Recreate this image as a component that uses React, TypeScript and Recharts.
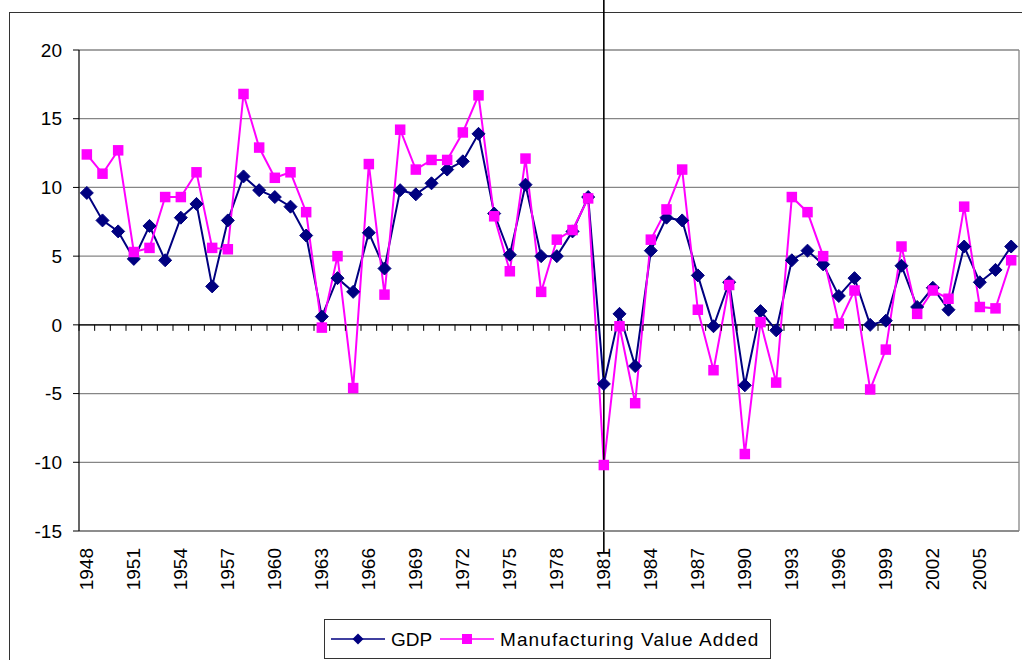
import { LineChart, Line, XAxis, YAxis, CartesianGrid, ReferenceLine } from "recharts";

const YEARS = [
  1948, 1949, 1950, 1951, 1952, 1953, 1954, 1955, 1956, 1957,
  1958, 1959, 1960, 1961, 1962, 1963, 1964, 1965, 1966, 1967,
  1968, 1969, 1970, 1971, 1972, 1973, 1974, 1975, 1976, 1977,
  1978, 1979, 1980, 1981, 1982, 1983, 1984, 1985, 1986, 1987,
  1988, 1989, 1990, 1991, 1992, 1993, 1994, 1995, 1996, 1997,
  1998, 1999, 2000, 2001, 2002, 2003, 2004, 2005, 2006, 2007,
];

const GDP = [
  9.6, 7.6, 6.8, 4.8, 7.2, 4.7, 7.8, 8.8, 2.8, 7.6,
  10.8, 9.8, 9.3, 8.6, 6.5, 0.6, 3.4, 2.4, 6.7, 4.1,
  9.8, 9.5, 10.3, 11.3, 11.9, 13.9, 8.1, 5.1, 10.2, 5.0,
  5.0, 6.8, 9.3, -4.3, 0.8, -3.0, 5.4, 7.8, 7.6, 3.6,
  -0.1, 3.1, -4.4, 1.0, -0.4, 4.7, 5.4, 4.4, 2.1, 3.4,
  0.0, 0.3, 4.3, 1.3, 2.7, 1.1, 5.7, 3.1, 4.0, 5.7,
];

const MVA = [
  12.4, 11.0, 12.7, 5.3, 5.6, 9.3, 9.3, 11.1, 5.6, 5.5,
  16.8, 12.9, 10.7, 11.1, 8.2, -0.2, 5.0, -4.6, 11.7, 2.2,
  14.2, 11.3, 12.0, 12.0, 14.0, 16.7, 7.9, 3.9, 12.1, 2.4,
  6.2, 6.9, 9.2, -10.2, -0.1, -5.7, 6.2, 8.4, 11.3, 1.1,
  -3.3, 2.9, -9.4, 0.2, -4.2, 9.3, 8.2, 5.0, 0.1, 2.5,
  -4.7, -1.8, 5.7, 0.8, 2.5, 1.9, 8.6, 1.3, 1.2, 4.7,
];

const Y_TICKS = [-15, -10, -5, 0, 5, 10, 15, 20];
const LABEL_EVERY = 3;
const MARKER_YEAR = 1981;

const W = 1022;
const H = 660;
const TOP = 50;
const LEFT = 79;
const RIGHT = 3;
const BOTTOM = 129;
const PLOT_W = W - LEFT - RIGHT;
const PLOT_H = H - TOP - BOTTOM;
const Y_MIN = Y_TICKS[0];
const Y_MAX = Y_TICKS[Y_TICKS.length - 1];
const BAND = PLOT_W / YEARS.length;
const ZERO_Y = TOP + (PLOT_H * Y_MAX) / (Y_MAX - Y_MIN);
const PX_PER_UNIT = PLOT_H / (Y_MAX - Y_MIN);

const FONT = '"Liberation Sans", Arial, sans-serif';

const data = YEARS.map((year, i) => ({ year, gdp: GDP[i], mva: MVA[i] }));

function XTick(props: any) {
  const { x, y, payload, index } = props;
  const showLabel = index % LABEL_EVERY === 0;
  return (
    <g>
      <line x1={x - BAND / 2} x2={x - BAND / 2} y1={ZERO_Y} y2={ZERO_Y + 6} stroke="#000" strokeWidth={1} />
      {index === YEARS.length - 1 && (
        <line x1={x + BAND / 2} x2={x + BAND / 2} y1={ZERO_Y} y2={ZERO_Y + 6} stroke="#000" strokeWidth={1} />
      )}
      {showLabel && (
        <text
          x={x}
          y={y}
          dy="0.35em"
          textAnchor="end"
          transform={`rotate(-90, ${x}, ${y})`}
          fontSize={19}
          fontFamily={FONT}
          fill="#000"
        >
          {payload.value}
        </text>
      )}
    </g>
  );
}

function Diamond(props: any) {
  const { cx, cy, index } = props;
  const r = 6.5;
  return (
    <path
      key={`d-${index}`}
      d={`M${cx},${cy - r} L${cx + r},${cy} L${cx},${cy + r} L${cx - r},${cy} Z`}
      fill="#000080"
      stroke="#000080"
    />
  );
}

function Square(props: any) {
  const { cx, cy, index } = props;
  const s = 10.5;
  return <rect key={`s-${index}`} x={cx - s / 2} y={cy - s / 2} width={s} height={s} fill="#ff00ff" />;
}

function LegendBox() {
  return (
    <div
      style={{
        position: "absolute",
        left: 324,
        top: 619,
        width: 447,
        height: 40,
        boxSizing: "border-box",
        border: "1.5px solid #333",
        background: "#fff",
      }}
    >
      <svg width={445} height={38} style={{ display: "block" }}>
        <line x1={6} x2={60} y1={19} y2={19} stroke="#000080" strokeWidth={1.5} />
        <path d="M33,13.5 L38.5,19 L33,24.5 L27.5,19 Z" fill="#000080" />
        <text x={66} y={19} dy="0.35em" fontSize={19} fontFamily={FONT} fill="#000">
          GDP
        </text>
        <line x1={115} x2={169} y1={19} y2={19} stroke="#ff00ff" strokeWidth={1.5} />
        <rect x={137} y={14} width={10} height={10} fill="#ff00ff" />
        <text x={175} y={19} dy="0.35em" fontSize={19} fontFamily={FONT} fill="#000" letterSpacing={1.1}>
          Manufacturing Value Added
        </text>
      </svg>
    </div>
  );
}

export default function App() {
  return (
    <div
      style={{
        position: "fixed",
        left: 0,
        top: 0,
        width: W,
        height: H,
        overflow: "hidden",
        background: "#fff",
        fontFamily: FONT,
      }}
    >
      <div
        style={{
          position: "absolute",
          left: 9,
          top: 12,
          width: 1200,
          height: 800,
          border: "1.5px solid #333",
        }}
      />
      <div style={{ position: "absolute", left: 0, top: 0 }}>
        <LineChart width={W} height={H} data={data} margin={{ top: TOP, right: 0, bottom: 0, left: 0 }}>
          <CartesianGrid vertical={false} stroke="#868686" strokeWidth={1.3} />
          <XAxis
            dataKey="year"
            interval={0}
            height={BOTTOM}
            padding={{ left: BAND / 2, right: BAND / 2 }}
            axisLine={{ stroke: "#868686", strokeWidth: 1.3 }}
            tickLine={false}
            tickSize={0}
            tickMargin={17}
            tick={<XTick />}
          />
          <YAxis
            domain={[Y_MIN, Y_MAX]}
            ticks={Y_TICKS}
            width={LEFT}
            axisLine={{ stroke: "#000", strokeWidth: 1.2 }}
            tickLine={{ stroke: "#000" }}
            tickSize={6}
            tickMargin={11}
            tick={{ fill: "#000", fontSize: 19, fontFamily: FONT }}
            allowDataOverflow
          />
          <YAxis
            yAxisId="frame"
            orientation="right"
            domain={[Y_MIN, Y_MAX]}
            width={RIGHT}
            tick={false}
            tickLine={false}
            axisLine={{ stroke: "#868686", strokeWidth: 1.3 }}
          />
          <ReferenceLine y={0} stroke="#000" strokeWidth={1.2} />
          <Line
            dataKey="gdp"
            stroke="#000080"
            strokeWidth={2}
            dot={Diamond}
            activeDot={false}
            isAnimationActive={false}
          />
          <Line
            dataKey="mva"
            stroke="#ff00ff"
            strokeWidth={2}
            dot={Square}
            activeDot={false}
            isAnimationActive={false}
          />
          <ReferenceLine
            segment={[
              { x: MARKER_YEAR, y: Y_MAX + TOP / PX_PER_UNIT },
              { x: MARKER_YEAR, y: Y_MIN - 22 / PX_PER_UNIT },
            ]}
            ifOverflow="visible"
            stroke="#000"
            strokeWidth={1.6}
          />
        </LineChart>
      </div>
      <LegendBox />
    </div>
  );
}
